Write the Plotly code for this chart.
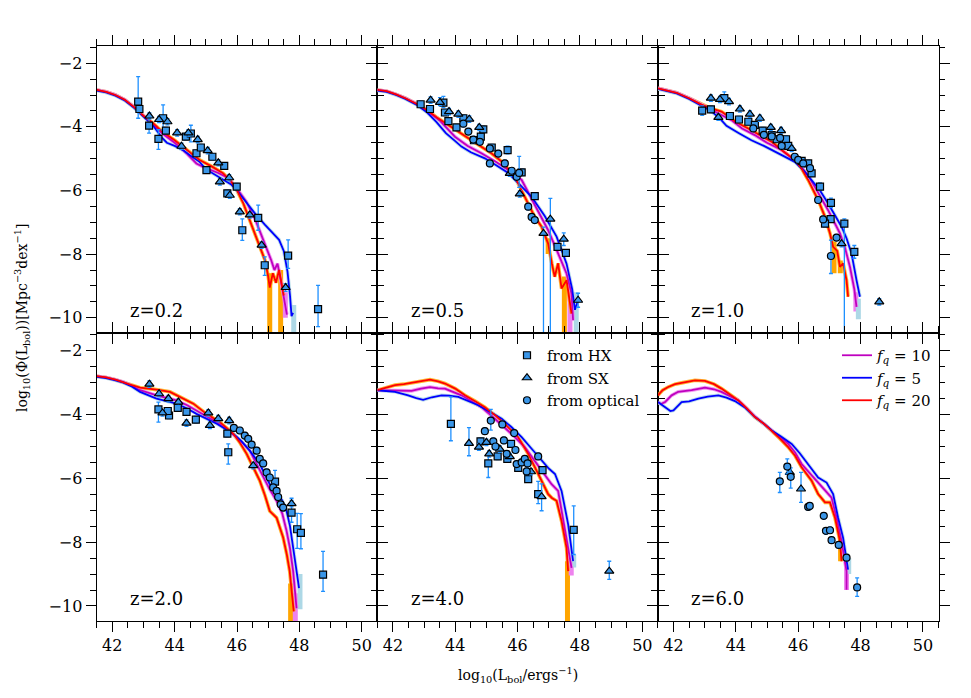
import plotly.graph_objects as go

# ---------------- data ----------------
PANELS = ["z=0.2", "z=0.5", "z=1.0", "z=2.0", "z=4.0", "z=6.0"]
X_TICKS = [42, 44, 46, 48, 50]
Y_TICKS = [-2, -4, -6, -8, -10]

# model curves (log L, log Phi) for f_q = 10, 5, 20
FQ10_Z02 = [(41.5,-2.84),(41.8,-2.9),(42.1,-3.0),(42.4,-3.15),(42.7,-3.38),(43.0,-3.65),(43.3,-3.9),(43.6,-4.2),(44.0,-4.5),(44.4,-4.85),(44.7,-5.15),(45.0,-5.3),(45.4,-5.45),(45.7,-5.6),(46.0,-5.95),(46.3,-6.35),(46.6,-6.95),(46.85,-7.55),(47.0,-7.95),(47.1,-8.2),(47.2,-8.5),(47.3,-8.3),(47.4,-8.8),(47.5,-9.3),(47.6,-9.9)]
FQ5_Z02 = [(41.5,-2.86),(41.8,-2.92),(42.1,-3.02),(42.4,-3.17),(42.7,-3.4),(43.0,-3.67),(43.3,-3.95),(43.6,-4.35),(43.75,-4.5),(44.0,-4.6),(44.3,-4.75),(44.5,-4.9),(44.8,-5.1),(45.0,-5.33),(45.3,-5.5),(45.6,-5.68),(45.8,-5.8),(46.0,-6.0),(46.3,-6.38),(46.6,-6.75),(46.9,-7.08),(47.1,-7.3),(47.35,-7.55),(47.5,-7.9),(47.62,-8.55),(47.7,-9.3),(47.75,-9.95),(47.8,-9.85)]
FQ20_Z02 = [(41.5,-2.84),(41.8,-2.9),(42.1,-3.0),(42.4,-3.15),(42.7,-3.38),(43.0,-3.65),(43.3,-3.88),(43.6,-4.15),(44.0,-4.42),(44.4,-4.72),(44.8,-5.04),(45.2,-5.25),(45.55,-5.46),(45.8,-5.7),(46.0,-6.0),(46.2,-6.4),(46.4,-6.9),(46.6,-7.4),(46.75,-7.8),(46.9,-8.2),(47.0,-8.7),(47.05,-9.05),(47.15,-8.6),(47.25,-8.9),(47.35,-8.5),(47.45,-9.0),(47.5,-9.3)]

FQ10_Z05 = [(41.5,-2.84),(41.8,-2.88),(42.1,-2.98),(42.4,-3.1),(42.8,-3.3),(43.1,-3.5),(43.5,-3.8),(43.99,-4.31),(44.4,-4.6),(44.84,-4.83),(45.3,-5.1),(45.7,-5.36),(46.13,-5.67),(46.55,-6.45),(46.98,-7.25),(47.3,-7.98),(47.57,-8.61),(47.73,-9.24),(47.78,-10.08)]
FQ5_Z05 = [(41.5,-2.86),(41.8,-2.9),(42.1,-3.0),(42.4,-3.12),(42.8,-3.33),(43.1,-3.55),(43.4,-3.85),(43.7,-4.2),(44.0,-4.45),(44.2,-4.62),(44.5,-4.8),(44.95,-4.99),(45.3,-5.2),(45.7,-5.45),(46.1,-5.85),(46.45,-6.2),(46.87,-6.8),(47.25,-7.45),(47.57,-8.3),(47.75,-9.1),(47.84,-9.75),(47.94,-9.45)]
FQ20_Z05 = [(41.5,-2.84),(41.8,-2.88),(42.1,-2.98),(42.4,-3.1),(42.8,-3.3),(43.1,-3.48),(43.4,-3.7),(43.72,-3.9),(44.1,-4.15),(44.42,-4.36),(44.8,-4.6),(45.17,-4.84),(45.5,-5.1),(45.9,-5.55),(46.23,-6.2),(46.55,-6.83),(46.77,-7.14),(46.98,-7.67),(47.1,-8.3),(47.19,-8.71),(47.3,-8.29),(47.41,-9.08),(47.57,-8.82),(47.65,-9.3),(47.73,-9.87)]

FQ10_Z10 = [(41.5,-2.79),(41.8,-2.85),(42.1,-2.93),(42.5,-3.1),(42.9,-3.31),(43.2,-3.45),(43.5,-3.6),(43.86,-3.79),(44.2,-4.05),(44.61,-4.26),(45.0,-4.5),(45.47,-4.73),(46.0,-5.15),(46.3,-5.5),(46.53,-5.88),(46.96,-6.62),(47.34,-7.35),(47.5,-7.8),(47.66,-8.4),(47.8,-9.1),(47.87,-9.66)]
FQ5_Z10 = [(41.5,-2.81),(41.8,-2.87),(42.1,-2.95),(42.5,-3.12),(42.9,-3.33),(43.2,-3.5),(43.5,-3.75),(43.7,-3.97),(44.1,-4.2),(44.5,-4.42),(44.9,-4.6),(45.36,-4.83),(45.89,-5.1),(46.2,-5.4),(46.43,-5.67),(46.7,-6.0),(46.96,-6.41),(47.2,-6.8),(47.39,-7.14),(47.55,-7.5),(47.71,-7.98),(47.87,-8.82),(47.98,-9.34)]
FQ20_Z10 = [(41.5,-2.79),(41.8,-2.85),(42.1,-2.93),(42.5,-3.1),(42.9,-3.3),(43.2,-3.42),(43.54,-3.52),(44.0,-3.85),(44.4,-4.05),(44.8,-4.28),(45.15,-4.47),(45.5,-4.75),(45.89,-5.04),(46.1,-5.3),(46.32,-5.67),(46.64,-6.3),(46.86,-6.83),(47.02,-7.35),(47.12,-7.77),(47.25,-7.9),(47.34,-8.4),(47.44,-8.29),(47.55,-8.82),(47.6,-9.34)]

FQ10_Z20 = [(41.5,-2.81),(41.8,-2.85),(42.1,-2.92),(42.35,-2.99),(42.6,-3.1),(42.89,-3.25),(43.42,-3.41),(44.06,-3.57),(44.4,-3.72),(44.7,-3.88),(45.0,-4.05),(45.35,-4.25),(45.7,-4.5),(45.99,-4.72),(46.2,-4.92),(46.41,-5.14),(46.6,-5.5),(46.84,-5.98),(47.05,-6.35),(47.27,-6.71),(47.45,-7.1),(47.59,-7.65),(47.7,-8.2),(47.8,-8.91),(47.91,-10.07)]
FQ5_Z20 = [(41.5,-2.83),(41.8,-2.87),(42.1,-2.94),(42.35,-3.01),(42.6,-3.12),(42.89,-3.3),(43.42,-3.51),(44.06,-3.67),(44.4,-3.82),(44.7,-3.99),(45.0,-4.13),(45.35,-4.3),(45.88,-4.61),(46.15,-4.85),(46.41,-5.14),(46.73,-5.56),(47.05,-6.19),(47.2,-6.35),(47.32,-6.5),(47.45,-6.7),(47.59,-7.03),(47.7,-7.5),(47.8,-8.18),(47.9,-8.8),(47.99,-9.44)]
FQ20_Z20 = [(41.5,-2.81),(41.8,-2.85),(42.1,-2.92),(42.35,-2.99),(42.6,-3.08),(42.89,-3.17),(43.2,-3.2),(43.42,-3.23),(43.85,-3.3),(44.17,-3.46),(44.6,-3.67),(45.02,-3.99),(45.45,-4.25),(45.88,-4.61),(46.1,-4.9),(46.31,-5.24),(46.5,-5.6),(46.73,-6.08),(46.9,-6.55),(47.05,-7.03),(47.27,-7.24),(47.48,-7.86),(47.6,-8.4),(47.69,-8.91),(47.76,-9.6),(47.82,-10.17)]

FQ10_Z40 = [(41.5,-3.25),(41.8,-3.25),(42.07,-3.25),(42.35,-3.25),(42.6,-3.27),(42.9,-3.2),(43.19,-3.15),(43.45,-3.19),(43.67,-3.2),(44.2,-3.41),(44.84,-3.78),(45.2,-4.08),(45.59,-4.41),(45.9,-4.7),(46.23,-5.03),(46.5,-5.4),(46.77,-5.77),(47.09,-6.19),(47.3,-6.4),(47.46,-7.24),(47.62,-8.18),(47.73,-8.81)]
FQ5_Z40 = [(41.5,-3.25),(41.8,-3.27),(42.07,-3.3),(42.49,-3.41),(42.75,-3.5),(42.97,-3.55),(43.25,-3.47),(43.56,-3.41),(43.8,-3.42),(44.1,-3.46),(44.4,-3.58),(44.74,-3.72),(45.1,-3.92),(45.49,-4.14),(45.8,-4.4),(46.13,-4.72),(46.45,-5.08),(46.77,-5.45),(47.0,-5.7),(47.2,-5.87),(47.41,-6.4),(47.62,-7.44),(47.78,-8.6)]
FQ20_Z40 = [(41.5,-3.25),(41.8,-3.17),(42.07,-3.09),(42.35,-3.06),(42.6,-3.02),(42.9,-2.96),(43.19,-2.92),(43.45,-2.97),(43.67,-3.04),(44.0,-3.2),(44.31,-3.41),(44.65,-3.6),(44.95,-3.78),(45.3,-4.05),(45.59,-4.3),(46.02,-4.72),(46.34,-5.24),(46.66,-5.87),(46.98,-6.5),(47.1,-6.62),(47.25,-6.71),(47.41,-7.34),(47.57,-8.18),(47.62,-8.91)]

FQ10_Z60 = [(41.5,-3.62),(41.6,-3.68),(41.73,-3.62),(41.94,-3.41),(42.15,-3.3),(42.58,-3.25),(43.01,-3.17),(43.3,-3.22),(43.54,-3.3),(43.8,-3.42),(44.08,-3.57),(44.35,-3.82),(44.61,-4.07),(44.9,-4.3),(45.15,-4.51),(45.4,-4.72),(45.68,-4.93),(45.9,-5.2),(46.11,-5.56),(46.54,-6.03),(46.86,-6.4),(47.07,-6.61),(47.23,-7.24),(47.39,-7.97),(47.55,-8.91),(47.55,-9.49)]
FQ5_Z60 = [(41.5,-3.62),(41.73,-3.78),(41.9,-3.9),(42.0,-3.88),(42.15,-3.72),(42.26,-3.62),(42.5,-3.6),(42.8,-3.51),(43.1,-3.45),(43.44,-3.41),(43.7,-3.48),(43.97,-3.59),(44.3,-3.8),(44.61,-4.09),(44.9,-4.3),(45.15,-4.51),(45.45,-4.7),(45.79,-4.93),(46.05,-5.22),(46.32,-5.56),(46.64,-5.98),(46.91,-6.14),(47.12,-6.5),(47.28,-7.24),(47.44,-7.87),(47.6,-8.86)]
FQ20_Z60 = [(41.5,-3.41),(41.65,-3.25),(41.83,-3.15),(42.05,-3.06),(42.26,-3.02),(42.5,-2.97),(42.69,-2.94),(43.01,-2.96),(43.3,-3.06),(43.54,-3.2),(43.8,-3.37),(44.08,-3.57),(44.35,-3.82),(44.61,-4.09),(44.9,-4.3),(45.15,-4.51),(45.4,-4.75),(45.68,-5.03),(45.9,-5.3),(46.11,-5.66),(46.43,-6.08),(46.64,-6.5),(46.86,-6.76),(47.02,-6.76),(47.18,-7.24),(47.34,-7.97),(47.39,-8.6)]

# model scatter bands that run off-scale at the bright end: (x, top, bottom)
BAND10 = [[(47.55,-9.2,-10.0)], [(47.68,-9.0,-12)], [(47.85,-9.2,-9.8)], [(47.87,-9.6,-12)], [(47.72,-8.5,-9.05)], [(47.55,-8.6,-9.5)]]
BAND5 = [[(47.82,-9.6,-12)], [(47.88,-9.2,-12)], [(47.93,-9.4,-10.05)], [(48.02,-9.0,-10.1)], [(47.8,-8.4,-8.8)], [(47.62,-8.5,-9.0)]]
BAND20 = [[(47.05,-8.6,-12),(47.4,-8.5,-12)], [(46.98,-7.5,-8.0),(47.5,-8.7,-12)], [(47.15,-7.6,-8.6),(47.35,-8.2,-8.6)], [(47.72,-9.3,-12)], [(47.6,-8.6,-12)], [(47.36,-7.8,-8.6)]]

# observational points: (x, y, err_up, err_down)
HX_Z02 = [(42.83,-3.21,0.79,0.52),(42.87,-3.44,0.12,0.12),(43.18,-3.96,0.23,0.24),(43.48,-4.38,0.29,0.33),(43.63,-3.73,0.42,0.37),(43.72,-4.12,0.1,0.1),(44.36,-4.31,0.1,0.1),(44.52,-4.21,0.26,0.26),(44.70,-4.83,0.1,0.1),(44.84,-4.65,0.1,0.1),(45.02,-5.36,0.1,0.1),(45.21,-4.94,0.1,0.1),(45.59,-5.23,0.1,0.1),(45.99,-5.88,0.1,0.1),(45.69,-6.09,0.1,0.1),(46.17,-7.25,0.36,0.32),(46.68,-6.86,0.4,0.39),(46.89,-8.35,0.26,0.32),(47.64,-8.05,0.5,0.4),(48.60,-9.73,0.75,0.55)]
SX_Z02 = [(43.19,-3.66,0.1,0.1),(43.50,-3.77,0.1,0.1),(43.77,-3.84,0.1,0.1),(44.08,-4.19,0.1,0.1),(44.44,-4.19,0.1,0.1),(44.74,-4.40,0.1,0.1),(44.22,-4.61,0.1,0.1),(45.06,-4.75,0.1,0.1),(45.40,-5.13,0.1,0.1),(45.75,-5.60,0.1,0.1),(45.45,-5.73,0.1,0.1),(45.77,-6.15,0.1,0.1),(46.09,-6.67,0.1,0.1),(46.41,-6.77,0.1,0.1),(46.79,-7.72,0.1,0.1),(47.56,-9.05,0.12,0.12)]
OPT_Z02 = []

HX_Z05 = [(42.89,-3.29,0.1,0.1),(43.19,-3.44,0.1,0.1),(43.62,-3.24,0.2,0.15),(43.67,-3.55,0.1,0.1),(43.78,-3.82,0.1,0.1),(44.04,-4.02,0.1,0.1),(44.26,-3.73,0.1,0.1),(44.60,-4.42,0.1,0.1),(44.82,-4.31,0.1,0.1),(44.90,-4.08,0.1,0.1),(45.17,-4.65,0.1,0.1),(45.68,-4.73,0.12,0.12),(46.13,-5.43,0.1,0.1),(46.55,-6.18,0.1,0.1),(47.28,-7.77,0.1,0.1),(47.55,-7.96,0.1,0.1)]
SX_Z05 = [(43.21,-3.16,0.1,0.1),(43.51,-3.23,0.15,0.1),(43.80,-3.52,0.1,0.1),(44.10,-3.60,0.1,0.1),(44.45,-3.76,0.1,0.1),(44.77,-4.02,0.1,0.1),(45.75,-5.46,0.1,0.1),(46.07,-6.11,0.1,0.1),(46.83,-7.35,0.2,5.0),(47.05,-6.90,0.65,5.0),(47.48,-7.53,0.2,0.2),(47.94,-9.45,0.22,0.22)]
OPT_Z05 = [(44.26,-3.90,0.1,0.1),(44.42,-4.15,0.1,0.1),(44.58,-4.40,0.1,0.1),(44.79,-4.47,0.1,0.1),(45.11,-5.15,0.1,0.1),(45.11,-4.68,0.1,0.1),(45.38,-4.84,0.1,0.1),(45.59,-5.15,0.1,0.1),(45.81,-5.38,0.1,0.1),(45.97,-5.57,0.1,0.1),(46.34,-6.51,0.1,0.1),(46.45,-6.83,0.1,0.1),(46.55,-6.93,0.1,0.1),(46.05,-5.45,0.52,0.45)]

HX_Z10 = [(42.92,-3.49,0.15,0.15),(43.20,-3.45,0.1,0.1),(43.63,-3.10,0.2,0.1),(43.81,-3.66,0.1,0.1),(44.10,-3.77,0.1,0.1),(44.40,-3.84,0.1,0.1),(44.61,-3.94,0.1,0.1),(44.86,-4.12,0.1,0.1),(45.15,-4.26,0.1,0.1),(45.31,-4.39,0.1,0.1),(45.61,-4.39,0.1,0.1),(45.68,-4.60,0.1,0.1),(46.11,-5.07,0.1,0.1),(46.43,-5.46,0.1,0.1),(46.32,-5.15,0.1,0.1),(46.70,-5.88,0.12,0.12),(47.05,-6.39,0.15,0.15),(47.04,-6.90,0.1,0.1),(46.86,-7.04,0.1,0.1),(47.48,-7.04,0.15,4.0),(47.80,-7.93,0.2,0.2)]
SX_Z10 = [(43.20,-3.10,0.1,0.1),(43.49,-3.14,0.1,0.1),(43.78,-3.21,0.1,0.1),(44.13,-3.44,0.1,0.1),(44.45,-3.60,0.1,0.1),(44.77,-3.73,0.1,0.1),(45.12,-4.02,0.1,0.1),(45.45,-4.12,0.1,0.1),(45.79,-4.68,0.1,0.1),(43.44,-3.70,0.1,0.1),(47.39,-7.67,0.1,0.1),(48.60,-9.50,0.1,0.1)]
OPT_Z10 = [(44.56,-4.05,0.1,0.1),(44.90,-4.25,0.1,0.1),(45.15,-4.30,0.1,0.1),(45.42,-4.35,0.1,0.1),(45.47,-4.60,0.1,0.1),(45.89,-4.94,0.1,0.1),(46.00,-5.04,0.1,0.1),(46.16,-5.15,0.1,0.1),(46.38,-5.30,0.1,0.1),(46.64,-6.30,0.1,0.1),(46.80,-6.91,0.1,0.1),(47.23,-7.48,0.1,0.1),(47.05,-8.06,0.5,0.55)]

HX_Z20 = [(43.48,-3.85,0.23,0.4),(43.82,-4.04,0.1,0.1),(43.78,-3.90,0.1,0.1),(44.10,-3.80,0.1,0.1),(44.38,-3.93,0.1,0.1),(44.68,-4.17,0.1,0.1),(45.69,-4.61,0.1,0.1),(45.72,-5.19,0.26,0.37),(47.22,-6.11,0.35,0.38),(47.75,-7.08,0.45,0.3),(47.93,-7.60,0.5,0.6),(48.05,-7.71,0.6,0.5),(48.76,-9.02,0.73,0.52)]
SX_Z20 = [(43.19,-3.06,0.1,0.1),(43.50,-3.36,0.1,0.1),(43.61,-3.96,0.1,0.1),(43.80,-3.51,0.1,0.1),(44.12,-3.62,0.1,0.1),(44.38,-4.28,0.1,0.1),(45.08,-3.96,0.1,0.1),(45.13,-4.35,0.1,0.1),(45.40,-4.14,0.1,0.1),(45.75,-4.20,0.1,0.1),(46.52,-5.61,0.1,0.1),(47.75,-6.80,0.1,0.1)]
OPT_Z20 = [(45.90,-4.43,0.1,0.1),(46.09,-4.51,0.1,0.1),(46.25,-4.67,0.1,0.1),(46.36,-4.77,0.1,0.1),(46.47,-4.95,0.1,0.1),(46.63,-5.14,0.1,0.1),(46.73,-5.40,0.1,0.1),(46.84,-5.54,0.1,0.1),(46.95,-5.82,0.1,0.1),(47.05,-5.98,0.1,0.1),(47.16,-6.29,0.1,0.1),(47.27,-6.40,0.1,0.1),(47.32,-6.59,0.1,0.1),(47.40,-6.82,0.1,0.1),(47.48,-6.92,0.1,0.1)]

HX_Z40 = [(43.86,-4.30,0.84,0.53),(44.81,-4.85,0.1,0.1),(45.06,-5.54,0.3,0.44),(45.36,-5.32,0.1,0.1),(45.67,-5.40,0.1,0.1),(45.79,-4.93,0.1,0.1),(46.02,-5.68,0.1,0.1),(46.34,-6.03,0.1,0.1),(46.66,-6.50,0.4,0.3),(46.80,-5.75,0.1,0.1),(47.80,-7.62,0.75,0.77)]
SX_Z40 = [(44.44,-4.91,0.49,0.39),(44.76,-5.03,0.1,0.1),(45.00,-4.88,0.1,0.1),(45.09,-5.24,0.1,0.1),(45.43,-5.09,0.1,0.1),(45.75,-5.33,0.1,0.1),(46.43,-5.80,0.1,0.1),(46.77,-6.58,0.4,0.44),(48.94,-8.91,0.31,0.26)]
OPT_Z40 = [(44.95,-4.53,0.1,0.1),(45.14,-4.20,0.35,0.3),(45.22,-4.85,0.1,0.1),(45.29,-5.01,0.1,0.1),(45.51,-4.32,0.1,0.1),(45.56,-4.82,0.1,0.1),(45.65,-5.24,0.1,0.1),(45.89,-4.59,0.1,0.1),(45.93,-5.12,0.1,0.1),(45.97,-5.56,0.1,0.1),(46.13,-5.51,0.1,0.1),(46.23,-5.40,0.1,0.1),(46.32,-5.54,0.1,0.1),(46.29,-5.79,0.1,0.1),(46.66,-5.32,0.1,0.1)]

HX_Z60 = []
SX_Z60 = [(45.73,-5.82,0.1,0.1),(46.09,-6.34,0.52,0.42)]
OPT_Z60 = [(45.41,-6.10,0.28,0.35),(45.65,-5.64,0.24,0.23),(45.76,-5.96,0.28,0.35),(46.32,-6.90,0.1,0.1),(46.37,-6.87,0.1,0.1),(46.82,-7.18,0.1,0.1),(46.89,-7.65,0.1,0.1),(47.02,-7.63,0.1,0.1),(47.07,-7.94,0.1,0.1),(47.30,-8.09,0.1,0.1),(47.55,-8.49,0.1,0.1),(47.89,-9.42,0.3,0.28)]

FQ10 = [FQ10_Z02, FQ10_Z05, FQ10_Z10, FQ10_Z20, FQ10_Z40, FQ10_Z60]
FQ5 = [FQ5_Z02, FQ5_Z05, FQ5_Z10, FQ5_Z20, FQ5_Z40, FQ5_Z60]
FQ20 = [FQ20_Z02, FQ20_Z05, FQ20_Z10, FQ20_Z20, FQ20_Z40, FQ20_Z60]
HX = [HX_Z02, HX_Z05, HX_Z10, HX_Z20, HX_Z40, HX_Z60]
SX = [SX_Z02, SX_Z05, SX_Z10, SX_Z20, SX_Z40, SX_Z60]
OPT = [OPT_Z02, OPT_Z05, OPT_Z10, OPT_Z20, OPT_Z40, OPT_Z60]

# ---------------- styling ----------------
W, H = 971, 698
XPIX = [96.7, 377.3, 657.9, 938.5]
YPIX = [45.7, 332.7, 621.0]
FONT = "DejaVu Serif"
C10, C5, C20 = "#bf00bf", "#0000ff", "#ff0000"
B10, B5, B20 = "#ee82ee", "#add8e6", "#ffa500"
PT_FILL, PT_ERR = "#3a96e8", "#1e90ff"

fig = go.Figure()


def unzip(rows, n):
    return [[r[k] for r in rows] for k in range(n)]


for i in range(6):
    row, col = divmod(i, 3)
    sfx = "" if i == 0 else str(i + 1)
    xa, ya = "x" + sfx, "y" + sfx
    fig.update_layout(**{
        "xaxis" + sfx: dict(
            domain=[XPIX[col] / W, XPIX[col + 1] / W], anchor=ya,
            range=[41.5, 50.5], tickvals=X_TICKS, ticktext=[str(t) for t in X_TICKS],
            showticklabels=(row == 1),
            ticks="outside", ticklen=10, tickwidth=1.3, tickcolor="black",
            minor=dict(tickvals=[41.5 + 0.5 * k for k in range(19)], ticks="outside",
                       ticklen=5.5, tickwidth=1.3, tickcolor="black", showgrid=False),
            showline=True, linecolor="black", linewidth=1.3, mirror="ticks",
            showgrid=False, zeroline=False,
            tickfont=dict(family=FONT, size=16, color="black")),
        "yaxis" + sfx: dict(
            domain=[1 - YPIX[row + 1] / H, 1 - YPIX[row] / H], anchor=xa,
            range=[-10.47, -1.45], tickvals=Y_TICKS,
            showticklabels=(col == 0),
            ticks="outside", ticklen=10, tickwidth=1.3, tickcolor="black",
            minor=dict(tickvals=[-10.5 + 0.5 * k for k in range(19)], ticks="outside",
                       ticklen=5.5, tickwidth=1.3, tickcolor="black", showgrid=False),
            showline=True, linecolor="black", linewidth=1.3, mirror="ticks",
            showgrid=False, zeroline=False,
            tickfont=dict(family=FONT, size=16, color="black")),
    })

    # off-scale scatter bands
    for bands, bc in ((BAND20[i], B20), (BAND10[i], B10), (BAND5[i], B5)):
        for bx, btop, bbot in bands:
            fig.add_trace(go.Scatter(x=[bx, bx], y=[btop, bbot], mode="lines",
                                     line=dict(color=bc, width=5), xaxis=xa, yaxis=ya,
                                     showlegend=False, hoverinfo="skip"))
    # halos (scatter of model)
    for curve, bc in ((FQ20[i], B20), (FQ10[i], B10), (FQ5[i], B5)):
        cx, cy = unzip(curve, 2)
        fig.add_trace(go.Scatter(x=cx, y=cy, mode="lines", line=dict(color=bc, width=3.6),
                                 opacity=0.8, xaxis=xa, yaxis=ya, showlegend=False,
                                 hoverinfo="skip"))
    # model lines
    for curve, lc, name in ((FQ10[i], C10, "<i>f<sub>q</sub></i> = 10"),
                            (FQ5[i], C5, "<i>f<sub>q</sub></i> = 5"),
                            (FQ20[i], C20, "<i>f<sub>q</sub></i> = 20")):
        cx, cy = unzip(curve, 2)
        fig.add_trace(go.Scatter(x=cx, y=cy, mode="lines", line=dict(color=lc, width=1.8),
                                 name=name, xaxis=xa, yaxis=ya, legend="legend2",
                                 showlegend=(i == 5)))
    # observations
    for pts, sym, size, name in ((HX[i], "square", 7, "from HX"),
                                 (SX[i], "triangle-up", 8, "from SX"),
                                 (OPT[i], "circle", 7, "from optical")):
        if not pts and i != 4:
            continue
        px_, py_, eu, ed = unzip(pts, 4) if pts else ([], [], [], [])
        fig.add_trace(go.Scatter(
            x=px_, y=py_, mode="markers", name=name, xaxis=xa, yaxis=ya,
            marker=dict(symbol=sym, size=size, color=PT_FILL,
                        line=dict(color="black", width=1.2)),
            error_y=dict(type="data", symmetric=False, array=eu, arrayminus=ed,
                         color=PT_ERR, thickness=1.3, width=2),
            legend="legend", showlegend=(i == 4)))

    fig.add_annotation(text=PANELS[i], xref=xa + " domain", yref=ya + " domain",
                       x=0.112, y=0.077, xanchor="left", yanchor="middle",
                       showarrow=False, font=dict(family=FONT, size=18, color="black"))

fig.add_annotation(text="log<sub>10</sub>(L<sub>bol</sub>/ergs<sup>−1</sup>)",
                   xref="paper", yref="paper", x=517.6 / W, y=1 - 675 / H,
                   xanchor="center", yanchor="middle", showarrow=False,
                   font=dict(family=FONT, size=14, color="black"))
fig.add_annotation(text="log<sub>10</sub>(Φ(L<sub>bol</sub>))[Mpc<sup>−3</sup>dex<sup>−1</sup>]",
                   xref="paper", yref="paper", x=22 / W, y=1 - 318 / H, textangle=-90,
                   xanchor="center", yanchor="middle", showarrow=False,
                   font=dict(family=FONT, size=14, color="black"))

fig.update_layout(
    width=W, height=H, margin=dict(l=0, r=0, t=0, b=0),
    paper_bgcolor="white", plot_bgcolor="white",
    legend=dict(x=507 / W, y=1 - 339 / H, xanchor="left", yanchor="top",
                bgcolor="rgba(0,0,0,0)", font=dict(family=FONT, size=15, color="black"),
                itemwidth=30, tracegroupgap=0),
    legend2=dict(x=837 / W, y=1 - 339 / H, xanchor="left", yanchor="top",
                 bgcolor="rgba(0,0,0,0)", font=dict(family=FONT, size=15, color="black"),
                 itemwidth=30, tracegroupgap=0),
)

fig.write_html("out.html", config={"displayModeBar": False},
               post_script="document.body.style.margin='0';")
